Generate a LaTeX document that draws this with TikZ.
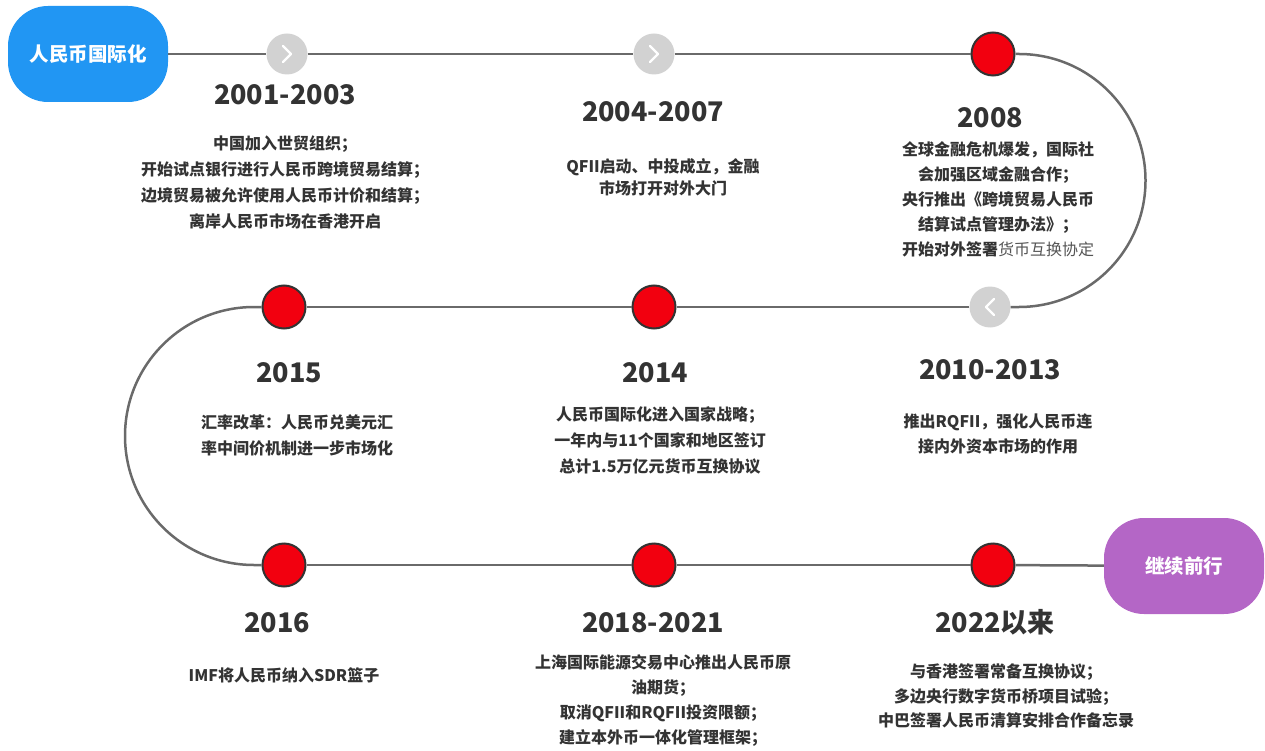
\documentclass[tikz,border=0pt]{standalone}
\usepackage{fontspec}
\setmainfont{Noto Sans CJK SC}
\definecolor{linegray}{HTML}{6A6A6A}
\definecolor{txtgray}{HTML}{333333}
\definecolor{softgray}{HTML}{555555}
\definecolor{chevgray}{HTML}{D2D2D2}
\definecolor{dotred}{HTML}{F2000F}
\definecolor{badgeblue}{HTML}{2196F3}
\definecolor{badgepurple}{HTML}{B466C6}
\tikzset{
  badge/.style={rectangle, rounded corners=40pt, minimum width=160pt, minimum height=96pt, text=white, font=\fontsize{19.5}{22}\selectfont\bfseries, inner sep=0pt},
  greydot/.style={circle, fill=chevgray, minimum size=41pt, inner sep=0pt},
  reddot/.style={circle, fill=dotred, draw=txtgray, line width=2pt, minimum size=43pt, inner sep=0pt},
  path/.style={draw=linegray, line width=2.5pt},
  chev/.style={draw=white, line width=2.2pt, line cap=round, line join=round},
  year/.style={text=txtgray, font=\fontsize{27}{30}\selectfont\bfseries, inner sep=0pt},
  desc/.style={text=txtgray, align=center, inner sep=0pt, font=\fontsize{16}{#1}\selectfont\bfseries},
  desc/.default=26
}
\begin{document}
\begin{tikzpicture}[x=1pt,y=-1pt]
\useasboundingbox (0,0) rectangle (1265,751);
% nodes on the path
\node[badge, fill=badgeblue] (start) at (88,54) {人民币国际化};
\node[greydot] (c1) at (287,54) {};
\node[greydot] (c2) at (654,54) {};
\node[reddot] (c3) at (993,54) {};
\node[greydot] (c4) at (990,307) {};
\node[reddot] (c5) at (654,307) {};
\node[reddot] (c6) at (284,307) {};
\node[reddot] (c7) at (284,565) {};
\node[reddot] (c8) at (654,565) {};
\node[reddot] (c9) at (993,565) {};
\node[badge, fill=badgepurple] (finish) at (1184,566) {继续前行};
\coordinate (rtop) at (1019,54);
\coordinate (rbot) at (1019,307);
\coordinate (ltop) at (254,307);
\coordinate (lbot) at (254,565);
% connectors
\draw[path] (start) -- (c1);
\draw[path] (c1) -- (c2);
\draw[path] (c2) -- (c3);
\draw[path] (c3.east) -- (rtop) arc[start angle=-90, end angle=90, radius=126.5] -- (c4.east);
\draw[path] (c4) -- (c5);
\draw[path] (c5) -- (c6);
\draw[path] (c6.west) -- (ltop) arc[start angle=270, end angle=90, radius=129] -- (c7.west);
\draw[path] (c7) -- (c8);
\draw[path] (c8) -- (c9);
\draw[path] (c9) -- (finish);
% chevrons
\draw[chev] ([shift={(-4,-8)}]c1.center) -- ++(8,8) -- ++(-8,8);
\draw[chev] ([shift={(-4,-8)}]c2.center) -- ++(8,8) -- ++(-8,8);
\draw[chev] ([shift={(4,-8)}]c4.center) -- ++(-8,8) -- ++(8,8);
% years
\node[year] (y1) at (285,95) {2001-2003};
\node[year] (y2) at (653,112) {2004-2007};
\node[year] (y3) at (990,118) {2008};
\node[year] (y4) at (990,370) {2010-2013};
\node[year] (y5) at (655,373) {2014};
\node[year] (y6) at (289,373) {2015};
\node[year] (y7) at (277,623) {2016};
\node[year] (y8) at (653,623) {2018-2021};
\node[year] (y9) at (995,622) {2022以来};
% descriptions
\node[desc=26] (d1) at (285,182) {中国加入世贸组织；\\开始试点银行进行人民币跨境贸易结算；\\边境贸易被允许使用人民币计价和结算；\\离岸人民币市场在香港开启};
\node[desc=22] (d2) at (663,177) {QFII启动、中投成立，金融\\市场打开对外大门};
\node[desc=25] (d3) at (998,199) {全球金融危机爆发，国际社\\会加强区域金融合作；\\央行推出《跨境贸易人民币\\结算试点管理办法》；\\开始对外签署{\mdseries\color{softgray}货币互换协定}};
\node[desc=25] (d4) at (998,434) {推出RQFII，强化人民币连\\接内外资本市场的作用};
\node[desc=26] (d5) at (660,440) {人民币国际化进入国家战略；\\一年内与11个国家和地区签订\\总计1.5万亿元货币互换协议};
\node[desc=26] (d6) at (297,435) {汇率改革：人民币兑美元汇\\率中间价机制进一步市场化};
\node[desc=26] (d7) at (284,675) {IMF将人民币纳入SDR篮子};
\node[desc=25] (d8) at (663,701) {上海国际能源交易中心推出人民币原\\油期货；\\取消QFII和RQFII投资限额；\\建立本外币一体化管理框架；};
\node[desc=24.5] (d9) at (1006,696) {与香港签署常备互换协议；\\多边央行数字货币桥项目试验；\\中巴签署人民币清算安排合作备忘录};
\end{tikzpicture}
\end{document}
